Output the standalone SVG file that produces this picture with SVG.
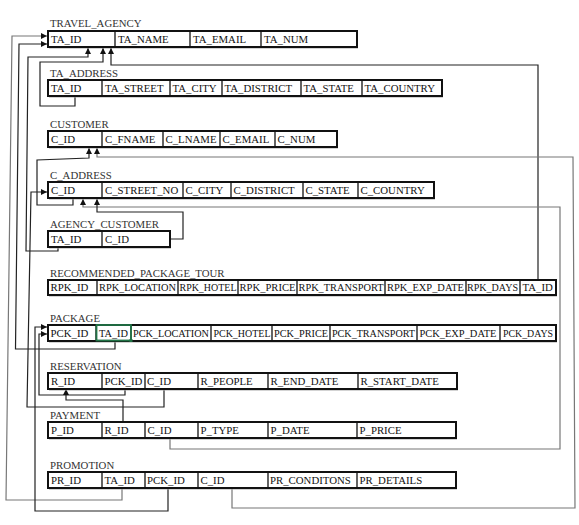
<svg xmlns="http://www.w3.org/2000/svg" width="579" height="525" viewBox="0 0 579 525">
<defs>
<marker id="arr" viewBox="0 0 10 10" refX="10" refY="5" markerWidth="6" markerHeight="6" markerUnits="userSpaceOnUse" orient="auto"><path d="M0,0 L10,5 L0,10 z" fill="#111"/></marker>
</defs>
<style>
text{font-family:"Liberation Serif","Times New Roman",serif;font-size:10.8px;fill:#111}
.ttl{fill:#333}
.sh{fill:#a8a8a8}
.box{fill:#fff;stroke:#111;stroke-width:2}
.dv{stroke:#111;stroke-width:1.3}
.c{fill:none;stroke:#222;stroke-width:1.2;marker-end:url(#arr)}
.cg{stroke:#777}
.sel{fill:none;stroke:#217346;stroke-width:1.8}
</style>
<rect width="579" height="525" fill="#fff"/>

<g id="connectors">
<polyline class="c cg" points="122,488 122,500 6,500 12,36 47,36"/>
<polyline class="c" points="115,341 115,349 15.5,349 19,44 47,44"/>
<polyline class="c" points="58,247 58,251 26,251 28,57 88,57 88,48"/>
<polyline class="c" points="75,96 75,106 40,106 40,62 103,62 103,48"/>
<polyline class="c" points="538,280 538,65 111,65 111,48"/>
<polyline class="c" points="73,198 73,205 37,205 37,160 89,158 89,148"/>
<polyline class="c cg" points="232,488 232,508 575,508 573,157 97,157 97,148"/>
<polyline class="c cg" points="170,438 170,449 560,449 560,207 83,207 83,199"/>
<polyline class="c" points="170,239 183,239 183,212 97,212 97,199"/>
<polyline class="c" points="164,389 164,407 27,407 31,192 47,192"/>
<polyline class="c" points="125,389 125,395 39,395 39,334 47,334"/>
<polyline class="c" points="168,488 168,511 35,511 35,327 47,327"/>
<polyline class="c" points="123,422 123,400 66,400 66,389"/>
</g>

<g id="travel_agency">
<text class="ttl" x="50" y="27">TRAVEL_AGENCY</text>
<rect class="sh" x="49" y="32.5" width="309" height="16"/>
<rect class="box" x="48" y="31" width="309" height="16"/>
<path class="dv" d="M115,31V47M190,31V47M261,31V47"/>
<text x="51" y="42.5">TA_ID</text><text x="118" y="42.5">TA_NAME</text><text x="193" y="42.5">TA_EMAIL</text><text x="264" y="42.5">TA_NUM</text>
</g>

<g id="ta_address">
<text class="ttl" x="50" y="76.5">TA_ADDRESS</text>
<rect class="sh" x="49" y="81.5" width="394" height="16"/>
<rect class="box" x="48" y="80" width="394" height="16"/>
<path class="dv" d="M102,80V96M170,80V96M222,80V96M301,80V96M362,80V96"/>
<text x="51" y="91.5">TA_ID</text><text x="105" y="91.5">TA_STREET</text><text x="172.5" y="91.5">TA_CITY</text><text x="224.5" y="91.5">TA_DISTRICT</text><text x="303.5" y="91.5">TA_STATE</text><text x="364.5" y="91.5">TA_COUNTRY</text>
</g>

<g id="customer">
<text class="ttl" x="50" y="127.5">CUSTOMER</text>
<rect class="sh" x="49" y="132.5" width="289" height="16"/>
<rect class="box" x="48" y="131" width="289" height="16"/>
<path class="dv" d="M102,131V147M163,131V147M220,131V147M275,131V147"/>
<text x="51" y="142.5">C_ID</text><text x="105" y="142.5">C_FNAME</text><text x="165.5" y="142.5">C_LNAME</text><text x="222.5" y="142.5">C_EMAIL</text><text x="277.5" y="142.5">C_NUM</text>
</g>

<g id="c_address">
<text class="ttl" x="50" y="178.5">C_ADDRESS</text>
<rect class="sh" x="49" y="183.5" width="386" height="16"/>
<rect class="box" x="48" y="182" width="386" height="16"/>
<path class="dv" d="M102,182V198M183,182V198M231,182V198M303,182V198M358,182V198"/>
<text x="51" y="193.5">C_ID</text><text x="105" y="193.5">C_STREET_NO</text><text x="185.5" y="193.5">C_CITY</text><text x="233.5" y="193.5">C_DISTRICT</text><text x="305.5" y="193.5">C_STATE</text><text x="360.5" y="193.5">C_COUNTRY</text>
</g>

<g id="agency_customer">
<text class="ttl" x="50" y="227.5">AGENCY_CUSTOMER</text>
<rect class="sh" x="49" y="232.5" width="122" height="16"/>
<rect class="box" x="48" y="231" width="122" height="16"/>
<path class="dv" d="M102,231V247"/>
<text x="51" y="242.5">TA_ID</text><text x="105" y="242.5">C_ID</text>
</g>

<g id="recommended_package_tour">
<text class="ttl" x="50" y="276.5">RECOMMENDED_PACKAGE_TOUR</text>
<rect class="sh" x="49" y="281.5" width="508" height="15"/>
<rect class="box" x="48" y="280" width="508" height="15"/>
<path class="dv" d="M97,280V295M178,280V295M238,280V295M297,280V295M385,280V295M466,280V295M520,280V295"/>
<text x="50.5" y="291">RPK_ID</text><text x="99" y="291" textLength="77" lengthAdjust="spacingAndGlyphs">RPK_LOCATION</text><text x="179.5" y="291" textLength="57" lengthAdjust="spacingAndGlyphs">RPK_HOTEL</text><text x="239.5" y="291" textLength="56" lengthAdjust="spacingAndGlyphs">RPK_PRICE</text><text x="298.5" y="291" textLength="85" lengthAdjust="spacingAndGlyphs">RPK_TRANSPORT</text><text x="387" y="291" textLength="77" lengthAdjust="spacingAndGlyphs">RPK_EXP_DATE</text><text x="467" y="291" textLength="51" lengthAdjust="spacingAndGlyphs">RPK_DAYS</text><text x="522.5" y="291">TA_ID</text>
</g>

<g id="package">
<text class="ttl" x="50" y="321.5">PACKAGE</text>
<rect class="sh" x="49" y="326.5" width="508" height="16"/>
<rect class="box" x="48" y="325" width="508" height="16"/>
<path class="dv" d="M96,325V341M131,325V341M211,325V341M272,325V341M330,325V341M417,325V341M500,325V341"/>
<rect class="sel" x="96.5" y="325" width="34.5" height="15.5"/>
<rect x="129.5" y="339" width="3" height="3" fill="#217346"/>
<text x="50.5" y="336.5">PCK_ID</text><text x="99" y="336.5" textLength="29" lengthAdjust="spacingAndGlyphs">TA_ID</text><text x="133" y="336.5" textLength="76" lengthAdjust="spacingAndGlyphs">PCK_LOCATION</text><text x="213.5" y="336.5" textLength="57" lengthAdjust="spacingAndGlyphs">PCK_HOTEL</text><text x="274" y="336.5" textLength="54" lengthAdjust="spacingAndGlyphs">PCK_PRICE</text><text x="332" y="336.5" textLength="83" lengthAdjust="spacingAndGlyphs">PCK_TRANSPORT</text><text x="419.5" y="336.5" textLength="77" lengthAdjust="spacingAndGlyphs">PCK_EXP_DATE</text><text x="503" y="336.5" textLength="50" lengthAdjust="spacingAndGlyphs">PCK_DAYS</text>
</g>

<g id="reservation">
<text class="ttl" x="50" y="369.5">RESERVATION</text>
<rect class="sh" x="49" y="374.5" width="409" height="16"/>
<rect class="box" x="48" y="373" width="409" height="16"/>
<path class="dv" d="M102,373V389M145,373V389M198,373V389M268,373V389M358,373V389"/>
<text x="51" y="384.5">R_ID</text><text x="104.5" y="384.5">PCK_ID</text><text x="147" y="384.5">C_ID</text><text x="200.5" y="384.5">R_PEOPLE</text><text x="270.5" y="384.5">R_END_DATE</text><text x="360.5" y="384.5">R_START_DATE</text>
</g>

<g id="payment">
<text class="ttl" x="50" y="418.5">PAYMENT</text>
<rect class="sh" x="49" y="423.5" width="408" height="16"/>
<rect class="box" x="48" y="422" width="408" height="16"/>
<path class="dv" d="M102,422V438M145,422V438M198,422V438M268,422V438M357,422V438"/>
<text x="51" y="433.5">P_ID</text><text x="104.5" y="433.5">R_ID</text><text x="147.5" y="433.5">C_ID</text><text x="200.5" y="433.5">P_TYPE</text><text x="270.5" y="433.5">P_DATE</text><text x="359.5" y="433.5">P_PRICE</text>
</g>

<g id="promotion">
<text class="ttl" x="50" y="468.5">PROMOTION</text>
<rect class="sh" x="49" y="473.5" width="408" height="16"/>
<rect class="box" x="48" y="472" width="408" height="16"/>
<path class="dv" d="M102,472V488M145,472V488M198,472V488M268,472V488M357,472V488"/>
<text x="51" y="483.5">PR_ID</text><text x="104.5" y="483.5">TA_ID</text><text x="147" y="483.5">PCK_ID</text><text x="200.5" y="483.5">C_ID</text><text x="270" y="483.5">PR_CONDITONS</text><text x="359.5" y="483.5">PR_DETAILS</text>
</g>
</svg>
